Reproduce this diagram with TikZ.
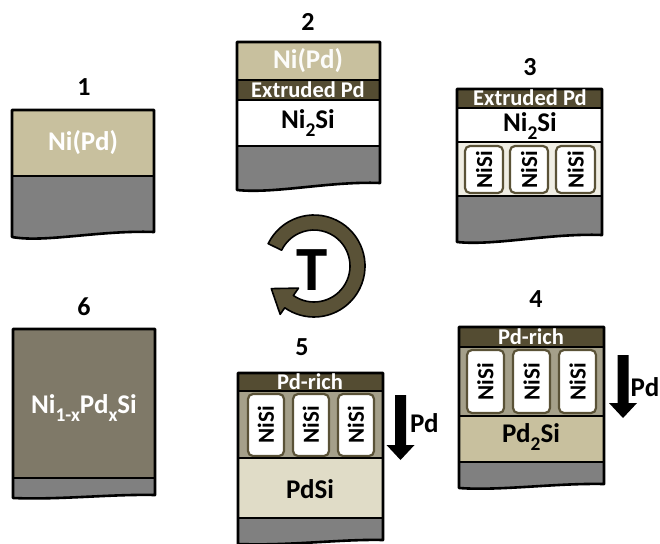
\documentclass[tikz,border=0pt]{standalone}
\usepackage{fontspec}
\setmainfont{Carlito}
\definecolor{nipd}{RGB}{200,192,158}
\definecolor{subst}{RGB}{128,128,128}
\definecolor{band}{RGB}{84,76,50}
\definecolor{alloy}{RGB}{127,121,104}
\definecolor{pdsi}{RGB}{224,220,199}
\definecolor{gapbg}{RGB}{165,160,138}
\definecolor{gaplight}{RGB}{240,238,228}
\definecolor{olive}{RGB}{90,82,55}
\newcommand{\lowsub}[1]{\raisebox{-0.3em}{\scalebox{0.72}{#1}}}
\tikzset{
  outline/.style={draw=black, line width=2.6pt, line join=round},
  sep/.style={draw=black, line width=1.8pt},
  lbl/.style={font=\bfseries\fontsize{27}{30}\selectfont, inner sep=0pt},
  bandlbl/.style={font=\bfseries\fontsize{22.5}{24}\selectfont, inner sep=0pt, text=white},
  stagenum/.style={font=\bfseries\fontsize{26}{28}\selectfont, inner sep=0pt},
  grain/.style={draw=olive, fill=white, line width=2.2pt, rounded corners=5pt},
  grainlbl/.style={font=\bfseries\fontsize{23}{24}\selectfont, rotate=90, inner sep=0pt},
  fluxlbl/.style={font=\bfseries\fontsize{27}{28}\selectfont, inner sep=0pt, anchor=west},
  flux/.style={fill=black},
}
\begin{document}
\begin{tikzpicture}[x=1pt,y=-1pt]
\useasboundingbox (0,0) rectangle (660,543);

% ---------- stage 1 ----------
\fill[nipd] (12,110) rectangle (154,176);
\fill[subst] (12,176) -- (154,176) -- (154,232) .. controls (100,230) and (45,243) .. (12,237) -- cycle;
\draw[sep] (12,176) -- (154,176);
\draw[outline] (12,110) -- (154,110) -- (154,232) .. controls (100,230) and (45,243) .. (12,237) -- cycle;
\node[lbl, text=white] (s1film) at (83,143) {Ni(Pd)};
\node[stagenum] (n1) at (84,87) {1};

% ---------- stage 2 ----------
\fill[nipd] (237,42) rectangle (380,80);
\fill[band] (237,80) rectangle (380,100);
\fill[white] (237,100) rectangle (380,146);
\fill[subst] (237,146) -- (380,146) -- (380,183) .. controls (330,181) and (275,194) .. (237,190) -- cycle;
\draw[sep] (237,80) -- (380,80) (237,100) -- (380,100) (237,146) -- (380,146);
\draw[outline] (237,42) -- (380,42) -- (380,183) .. controls (330,181) and (275,194) .. (237,190) -- cycle;
\node[lbl, text=white!95!nipd] (s2film) at (308,61) {Ni(Pd)};
\node[bandlbl] (s2band) at (308,90) {Extruded Pd};
\node[lbl] (s2sil) at (308,123) {Ni\lowsub{2}Si};
\node[stagenum] (n2) at (308,22) {2};

% ---------- stage 3 ----------
\fill[band] (457,89) rectangle (602,108);
\fill[white] (457,108) rectangle (602,142);
\fill[gaplight] (457,142) rectangle (602,196);
\fill[subst] (457,196) -- (602,196) -- (602,235) .. controls (550,233) and (495,246) .. (457,242) -- cycle;
\draw[grain] (465,146) rectangle (503,193);
\draw[grain] (510,146) rectangle (548,193);
\draw[grain] (556,146) rectangle (595,193);
\draw[sep] (457,108) -- (602,108) (457,142) -- (602,142) (457,196) -- (602,196);
\draw[outline] (457,89) -- (602,89) -- (602,235) .. controls (550,233) and (495,246) .. (457,242) -- cycle;
\node[bandlbl] (s3band) at (530,97.5) {Extruded Pd};
\node[lbl] (s3sil) at (530,126) {Ni\lowsub{2}Si};
\node[grainlbl] (s3g1) at (484,169.5) {NiSi};
\node[grainlbl] (s3g2) at (529,169.5) {NiSi};
\node[grainlbl] (s3g3) at (575.5,169.5) {NiSi};
\node[stagenum] (n3) at (530,67) {3};

% ---------- stage 4 ----------
\fill[band] (459,327) rectangle (604,347);
\fill[gapbg] (459,347) rectangle (604,416);
\fill[nipd] (459,416) rectangle (604,462);
\fill[subst] (459,462) -- (604,462) -- (604,484) .. controls (555,483) and (500,491) .. (459,488) -- cycle;
\draw[grain] (467,350) rectangle (504,413);
\draw[grain] (513,350) rectangle (550,413);
\draw[grain] (559,350) rectangle (596,413);
\draw[sep] (459,347) -- (604,347) (459,416) -- (604,416) (459,462) -- (604,462);
\draw[outline] (459,327) -- (604,327) -- (604,484) .. controls (555,483) and (500,491) .. (459,488) -- cycle;
\node[bandlbl] (s4band) at (531,337) {Pd-rich};
\node[grainlbl] (s4g1) at (485.5,381.5) {NiSi};
\node[grainlbl] (s4g2) at (531.5,381.5) {NiSi};
\node[grainlbl] (s4g3) at (577.5,381.5) {NiSi};
\node[lbl] (s4sil) at (531,437) {Pd\lowsub{2}Si};
\node[stagenum] (n4) at (536,299) {4};
\fill[flux] (617.5,355) -- (628.5,355) -- (628.5,403) -- (637,403) -- (623,418) -- (609,403) -- (617.5,403) -- cycle;
\node[fluxlbl] (s4pd) at (630.5,387) {Pd};

% ---------- stage 5 ----------
\fill[band] (238,373) rectangle (383,391);
\fill[gapbg] (238,391) rectangle (383,458);
\fill[pdsi] (238,458) rectangle (383,518);
\fill[subst] (238,518) -- (383,518) -- (383,540) .. controls (340,539) and (290,546) .. (238,544) -- cycle;
\draw[grain] (248,394) rectangle (284,456);
\draw[grain] (293,394) rectangle (329,456);
\draw[grain] (338,394) rectangle (374,456);
\draw[sep] (238,391) -- (383,391) (238,458) -- (383,458) (238,518) -- (383,518);
\draw[outline] (238,373) -- (383,373) -- (383,540) .. controls (340,539) and (290,546) .. (238,544) -- cycle;
\node[bandlbl] (s5band) at (310,382) {Pd-rich};
\node[grainlbl] (s5g1) at (266,425) {NiSi};
\node[grainlbl] (s5g2) at (311,425) {NiSi};
\node[grainlbl] (s5g3) at (356,425) {NiSi};
\node[lbl] (s5sil) at (310,489) {PdSi};
\node[stagenum] (n5) at (302,347) {5};
\fill[flux] (395,395) -- (406,395) -- (406,445) -- (414.5,445) -- (400.5,460) -- (386.5,445) -- (395,445) -- cycle;
\node[fluxlbl] (s5pd) at (410,423) {Pd};

% ---------- stage 6 ----------
\fill[alloy] (13,329) rectangle (155,478);
\fill[subst] (13,478) -- (155,478) -- (155,495) .. controls (110,494) and (60,500) .. (13,498) -- cycle;
\draw[sep] (13,478) -- (155,478);
\draw[outline] (13,329) -- (155,329) -- (155,495) .. controls (110,494) and (60,500) .. (13,498) -- cycle;
\node[lbl, text=white] (s6film) at (84,408) {Ni\lowsub{1-x}Pd\lowsub{x}Si};
\node[stagenum] (n6) at (84,307) {6};

% ---------- anneal cycle ----------
\begin{scope}[shift={(314,266)}]
  \fill[olive, draw=black, line width=1.6pt, line join=round]
    (206:51) arc[start angle=206, end angle=485, radius=51]
    -- (485:59) -- (-42.7,22.6) -- (485:27)
    -- (485:36) arc[start angle=485, end angle=206, radius=36] -- cycle;
\end{scope}
\node[font=\bfseries\fontsize{63}{63}\selectfont, inner sep=0pt] (temp) at (312,270) {T};
\end{tikzpicture}
\end{document}
